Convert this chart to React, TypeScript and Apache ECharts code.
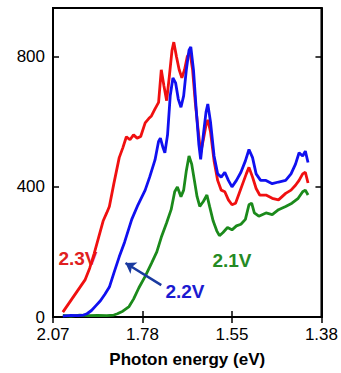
import React, { useEffect, useRef } from "react";
import * as echarts from "echarts";

// x values are wavelengths (nm); the axis is labelled in photon energy (eV)
const xTickValues = [600, 700, 800, 900];
const xTickLabels = ["2.07", "1.78", "1.55", "1.38"];

const red23V: [number, number][] = [
  [611, 15], [616, 35], [621, 55], [626, 75], [631, 95], [636, 115], [641, 150], [646, 195],
  [651, 245], [656, 295], [660, 320], [663, 340], [668, 410], [674, 490], [678, 520], [682, 554],
  [686, 545], [690, 560], [694, 550], [698, 555], [703, 597], [707, 610], [710, 618], [714, 640],
  [718, 660], [721, 760], [724, 710], [727, 665], [730, 740], [733, 820], [735, 845], [738, 800],
  [741, 760], [744, 735], [747, 760], [750, 800], [753, 815], [756, 760], [759, 660], [762, 580],
  [765, 505], [768, 545], [771, 590], [773, 606], [776, 570], [780, 480], [784, 420], [788, 390],
  [792, 385], [796, 360], [800, 345], [804, 350], [808, 380], [812, 410], [816, 440], [819, 460],
  [823, 430], [827, 395], [831, 375], [838, 375], [845, 365], [852, 360], [860, 380], [866, 390],
  [871, 405], [875, 420], [879, 440], [882, 445], [885, 412],
];

const blue22V: [number, number][] = [
  [611, 3], [620, 5], [628, 4], [634, 6], [638, 10], [643, 20], [648, 35], [653, 50], [658, 70],
  [663, 92], [668, 135], [674, 185], [680, 230], [688, 300], [695, 345], [703, 390], [708, 430],
  [714, 483], [718, 540], [720, 550], [723, 520], [725, 505], [728, 560], [731, 680], [734, 735],
  [737, 720], [740, 670], [743, 645], [746, 680], [749, 760], [752, 820], [754, 830], [757, 760],
  [760, 640], [763, 530], [765, 485], [768, 560], [771, 630], [773, 655], [776, 600], [780, 495],
  [784, 440], [788, 430], [792, 445], [796, 420], [800, 400], [805, 420], [810, 445], [815, 480],
  [819, 515], [823, 490], [827, 440], [832, 420], [838, 420], [845, 410], [852, 415], [860, 420],
  [866, 440], [871, 470], [875, 505], [879, 495], [882, 510], [885, 475],
];

const green21V: [number, number][] = [
  [611, 5], [620, 3], [630, 6], [640, 4], [650, 5], [660, 4], [668, 6], [672, 10], [678, 18],
  [685, 32], [690, 55], [696, 90], [703, 125], [710, 165], [716, 200], [721, 245], [727, 290],
  [732, 330], [736, 385], [739, 400], [743, 370], [746, 390], [749, 450], [752, 495], [755, 470],
  [758, 420], [761, 370], [764, 340], [768, 355], [772, 375], [775, 340], [779, 295], [783, 265],
  [786, 250], [790, 260], [795, 275], [800, 268], [805, 280], [810, 285], [815, 300], [819, 345],
  [822, 350], [825, 320], [830, 310], [838, 320], [845, 315], [852, 330], [860, 340], [867, 350],
  [874, 365], [879, 385], [882, 390], [885, 375],
];

const arrowFrom: [number, number] = [721, 98];
const arrowTo: [number, number] = [681, 166];

const FONT = "'Liberation Sans', Arial, Helvetica, sans-serif";

export default function App() {
  const ref = useRef<HTMLDivElement>(null);
  useEffect(() => {
    if (!ref.current) return;
    const chart = echarts.init(ref.current, undefined, { renderer: "svg" });
    const labelOf = (v: number) => {
      const i = xTickValues.indexOf(v);
      return i >= 0 ? xTickLabels[i] : "";
    };
    const tick = { show: true, inside: true, length: 6, lineStyle: { color: "#000", width: 1.5 } };
    chart.setOption({
      animation: false,
      backgroundColor: "#fff",
      grid: {
        left: 53, right: 16, top: 8, bottom: 56,
        show: true, borderColor: "#000", borderWidth: 2, backgroundColor: "transparent",
      },
      xAxis: [
        {
          type: "value", min: 600, max: 900, interval: 100, position: "bottom",
          axisLine: { show: true, lineStyle: { color: "#000", width: 2 } },
          axisTick: tick,
          splitLine: { show: false },
          axisLabel: { formatter: labelOf, color: "#000", fontSize: 17, fontFamily: FONT, margin: 9 },
          name: "Photon energy (eV)", nameLocation: "middle", nameGap: 34,
          nameTextStyle: { color: "#000", fontSize: 17, fontWeight: "bold", fontFamily: FONT },
        },
        {
          type: "value", min: 600, max: 900, interval: 100, position: "top",
          axisLine: { show: true, lineStyle: { color: "#000", width: 2 } },
          axisTick: tick, axisLabel: { show: false }, splitLine: { show: false },
        },
      ],
      yAxis: [
        {
          type: "value", min: 0, max: 950, interval: 400, position: "left",
          axisLine: { show: true, lineStyle: { color: "#000", width: 2 } },
          axisTick: tick, splitLine: { show: false },
          axisLabel: { color: "#000", fontSize: 17, fontFamily: FONT, margin: 8, showMaxLabel: false },
        },
        {
          type: "value", min: 0, max: 950, interval: 400, position: "right",
          axisLine: { show: true, lineStyle: { color: "#000", width: 2 } },
          axisTick: tick, axisLabel: { show: false }, splitLine: { show: false },
        },
      ],
      series: [
        {
          type: "line", data: green21V, showSymbol: false, symbol: "none",
          lineStyle: { color: "#1b8a1b", width: 2.8 }, z: 2,
        },
        {
          type: "line", data: red23V, showSymbol: false, symbol: "none",
          lineStyle: { color: "#f01010", width: 2.8 }, z: 3,
        },
        {
          type: "line", data: blue22V, showSymbol: false, symbol: "none",
          lineStyle: { color: "#1010f0", width: 2.8 }, z: 4,
          markLine: {
            silent: true, symbol: ["none", "arrow"], symbolSize: 10,
            label: { show: false },
            lineStyle: { color: "#1a3aa0", width: 2.5, type: "solid" },
            data: [[{ coord: arrowFrom }, { coord: arrowTo }]],
          },
        },
      ],
      graphic: [
        {
          type: "text", x: 78, y: 258,
          style: { text: "2.3V", fill: "#e02020", font: `bold 19px ${FONT}`, textAlign: "center", textVerticalAlign: "middle" },
        },
        {
          type: "text", x: 185, y: 291,
          style: { text: "2.2V", fill: "#1a1ad0", font: `bold 19px ${FONT}`, textAlign: "center", textVerticalAlign: "middle" },
        },
        {
          type: "text", x: 232, y: 260,
          style: { text: "2.1V", fill: "#248a24", font: `bold 19px ${FONT}`, textAlign: "center", textVerticalAlign: "middle" },
        },
      ],
    });
    return () => chart.dispose();
  }, []);
  return <div ref={ref} style={{ width: 341, height: 373, position: "absolute", left: 0, top: 0 }} />;
}
